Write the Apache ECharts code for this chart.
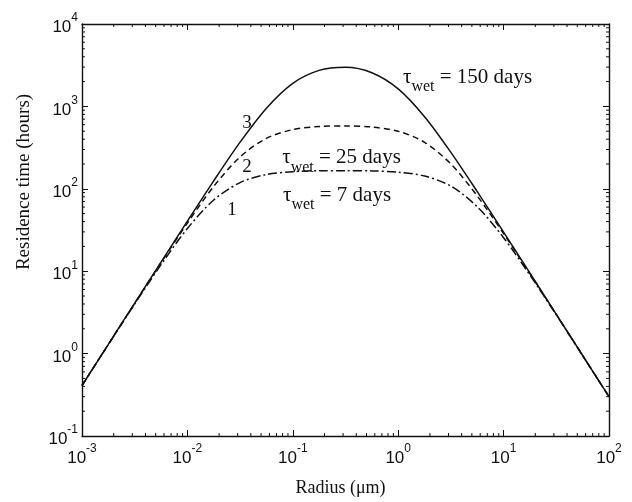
<!DOCTYPE html>
<html><head><meta charset="utf-8">
<script src="https://cdn.jsdelivr.net/npm/echarts@6/dist/echarts.min.js"></script>
<style>html,body{margin:0;padding:0;background:#fff}#c{width:632px;height:502px}</style>
</head><body><div id="c"></div>
<script>
// Radius (µm)
const radius = [0.001, 0.001778, 0.003162, 0.005623, 0.01, 0.01778, 0.03162, 0.05623, 0.1, 0.1778, 0.3162, 0.5623, 1, 1.778, 3.162, 5.623, 10, 17.78, 31.62, 56.23, 100];
// Residence time (hours)
const curve3_150days = [0.41, 1.296, 4.10, 12.9, 40.5, 125, 368, 952, 1905, 2736, 2981, 2558, 1630, 750, 277, 92.4, 29.8, 9.46, 3.00, 0.949, 0.300];
const curve2_25days  = [0.41, 1.294, 4.07, 12.7, 38.4, 107, 244, 410, 523, 570, 580, 562, 499, 367, 200, 81.9, 28.6, 9.34, 2.99, 0.947, 0.300];
const curve1_7days   = [0.409, 1.287, 4.00, 12.0, 33.0, 73.2, 119, 149, 161, 166, 166, 165, 159, 143, 108, 60.6, 25.5, 8.98, 2.95, 0.944, 0.300];
const xRange = [0.001, 100];
const yRange = [0.1, 10000];
const xTitle = 'Radius (μm)';
const yTitle = 'Residence time (hours)';
// annotations [x, y, text]
const annTau = [
  [1.11, 2050, '150 days'],
  [0.0794, 215, '25 days'],
  [0.0807, 75, '7 days']
];
const annNum = [
  [0.0367, 620, '3'],
  [0.0367, 183, '2'],
  [0.0265, 55, '1']
];

const xMinor = [], yMinor = [];
for (let e = -3; e < 2; e++) for (let k = 2; k <= 9; k++) xMinor.push(k * Math.pow(10, e));
for (let e = -1; e < 4; e++) for (let k = 2; k <= 9; k++) yMinor.push(k * Math.pow(10, e));

const INK = '#111111';
const pair = (xs, ys) => xs.map((x, i) => [x, ys[i]]);
const labelRich = {
  b: {fontSize: 17, fontFamily: 'Liberation Sans', color: INK, verticalAlign: 'bottom', lineHeight: 24},
  s: {fontSize: 12, fontFamily: 'Liberation Sans', color: INK, verticalAlign: 'top', lineHeight: 24}
};
const fmt = v => '{b|10}{s|' + Math.round(Math.log10(v)) + '}';
const axisLine = {lineStyle: {color: INK, width: 1.4}};
const tick = {inside: true, length: 6, lineStyle: {color: INK, width: 1}};

const chart = echarts.init(document.getElementById('c'));
const minorTickSeries = (vals, isX) => ({
  type: 'custom', silent: true, clip: false, z: 5,
  data: vals.map(v => isX ? [v, 1] : [1, v]),
  renderItem: (params, api) => {
    const ls = {stroke: INK, lineWidth: 1};
    if (isX) {
      const v = api.value(0);
      const b = api.coord([v, yRange[0]]), t = api.coord([v, yRange[1]]);
      return {type: 'group', children: [
        {type: 'line', shape: {x1: b[0], y1: b[1], x2: b[0], y2: b[1] - 3}, style: ls},
        {type: 'line', shape: {x1: t[0], y1: t[1], x2: t[0], y2: t[1] + 3}, style: ls}
      ]};
    } else {
      const v = api.value(1);
      const l = api.coord([xRange[0], v]), r = api.coord([xRange[1], v]);
      return {type: 'group', children: [
        {type: 'line', shape: {x1: l[0], y1: l[1], x2: l[0] + 3, y2: l[1]}, style: ls},
        {type: 'line', shape: {x1: r[0], y1: r[1], x2: r[0] - 3, y2: r[1]}, style: ls}
      ]};
    }
  }
});

const annText = (txt) => ({type: 'text', style: {}});

chart.setOption({
  animation: false,
  backgroundColor: '#fff',
  grid: {left: 82, right: 23, top: 24, bottom: 64, containLabel: false},
  xAxis: [
    {type: 'log', logBase: 10, min: xRange[0], max: xRange[1], position: 'bottom',
     axisLine: axisLine, axisTick: tick, splitLine: {show: false},
     axisLabel: {formatter: fmt, rich: labelRich, margin: 7},
     name: xTitle, nameLocation: 'middle', nameGap: 43,
     nameTextStyle: {fontFamily: 'Liberation Serif', fontSize: 18, color: INK, padding: [0, 10, 0, 0]}},
    {type: 'log', logBase: 10, min: xRange[0], max: xRange[1], position: 'top',
     axisLine: axisLine, axisTick: tick, splitLine: {show: false}, axisLabel: {show: false}}
  ],
  yAxis: [
    {type: 'log', logBase: 10, min: yRange[0], max: yRange[1], position: 'left',
     axisLine: axisLine, axisTick: tick, splitLine: {show: false},
     axisLabel: {formatter: fmt, rich: labelRich, margin: 4}},
    {type: 'log', logBase: 10, min: yRange[0], max: yRange[1], position: 'right',
     axisLine: axisLine, axisTick: tick, splitLine: {show: false}, axisLabel: {show: false}}
  ],
  graphic: [{
    type: 'text', x: 24, y: 182, rotation: Math.PI / 2,
    style: {text: yTitle, fontFamily: 'Liberation Serif', fontSize: 19, fill: INK, align: 'center', verticalAlign: 'middle'}
  }],
  series: [
    {type: 'line', name: '3', data: pair(radius, curve3_150days), smooth: 0.3, showSymbol: false,
     lineStyle: {color: INK, width: 1.5, type: 'solid'}},
    {type: 'line', name: '2', data: pair(radius, curve2_25days), smooth: 0.3, showSymbol: false,
     lineStyle: {color: INK, width: 1.5, type: [6, 4]}},
    {type: 'line', name: '1', data: pair(radius, curve1_7days), smooth: 0.3, showSymbol: false,
     lineStyle: {color: INK, width: 1.5, type: [9, 3, 2, 3]}},
    minorTickSeries(xMinor, true),
    minorTickSeries(yMinor, false),
    {type: 'custom', silent: true, clip: false, z: 10,
     data: annTau.map(a => [a[0], a[1]]),
     renderItem: (params, api) => {
       const p = api.coord([api.value(0), api.value(1)]);
       return {type: 'text', x: p[0], y: p[1], style: {
         text: '{t|τ}{w|wet}{t| = ' + annTau[params.dataIndex][2] + '}',
         align: 'left', verticalAlign: 'middle',
         rich: {
           t: {fontFamily: 'Liberation Serif', fontSize: 21, fill: INK, verticalAlign: 'top', lineHeight: 28},
           w: {fontFamily: 'Liberation Serif', fontSize: 16, fill: INK, verticalAlign: 'bottom', lineHeight: 28}
         }}};
     }},
    {type: 'custom', silent: true, clip: false, z: 10,
     data: annNum.map(a => [a[0], a[1]]),
     renderItem: (params, api) => {
       const p = api.coord([api.value(0), api.value(1)]);
       return {type: 'text', x: p[0], y: p[1], style: {
         text: annNum[params.dataIndex][2], align: 'center', verticalAlign: 'middle',
         fontFamily: 'Liberation Serif', fontSize: 19, fill: INK}};
     }}
  ]
});
</script></body></html>
